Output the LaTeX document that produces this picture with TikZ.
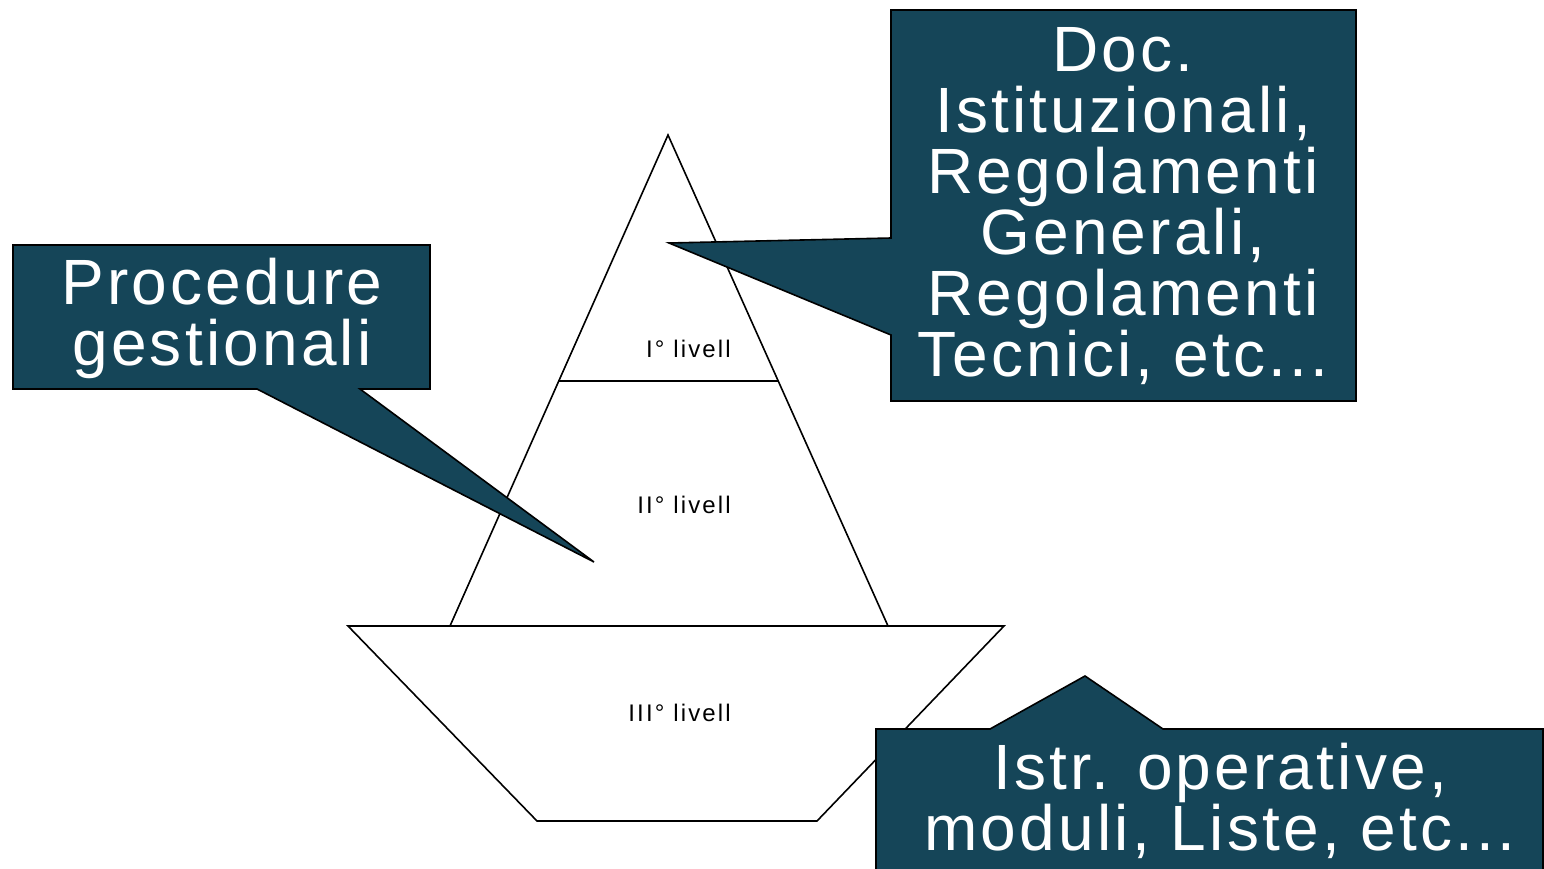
\documentclass[tikz,border=0pt]{standalone}
\usepackage{fontspec}
\setmainfont{Liberation Sans}
\newfontfamily\bigfont[LetterSpace=5]{Liberation Sans}
\newfontfamily\smallfont[LetterSpace=9]{Liberation Sans}
\usetikzlibrary{calc}
\definecolor{calloutfill}{RGB}{21,69,88}
\begin{document}
\begin{tikzpicture}[x=1pt,y=-1pt,
  outline/.style={draw=black,line width=1.6pt,line join=miter},
  callout/.style={outline,fill=calloutfill},
  calltext/.style={text=white,font=\bigfont\fontsize{64}{61}\selectfont,align=center,inner sep=0pt},
  levellabel/.style={font=\smallfont\fontsize{24}{28}\selectfont,inner sep=0pt,anchor=base east}]
\useasboundingbox (0,0) rectangle (1544,869);
% pyramid
\coordinate (apex) at (668,135);
\coordinate (bl) at (450,626);
\coordinate (br) at (888,626);
\coordinate (ml) at ($(apex)!0.501!(bl)$);
\coordinate (mr) at ($(apex)!0.501!(br)$);
\draw[outline,fill=white] (348,626) -- (1004,626) -- (817,821) -- (537,821) -- cycle;
\draw[outline] (apex) -- (bl) -- (br) -- cycle;
\draw[outline] (ml) -- (mr);
\node[levellabel] (l1) at (731,357) {I° livell};
\node[levellabel] (l2) at (731,513) {II° livell};
\node[levellabel] (l3) at (731,721) {III° livell};
% callouts
\coordinate (tipA) at (669,243);
\coordinate (tipB) at (594,562);
\coordinate (tipC) at (1085,676);
\draw[callout] (891,10) -- (1356,10) -- (1356,401) -- (891,401) -- (891,335) -- (tipA) -- (891,238) -- cycle;
\draw[callout] (13,245) -- (430,245) -- (430,389) -- (360,389) -- (tipB) -- (257,389) -- (13,389) -- cycle;
\draw[callout] (876,729) -- (990,729) -- (tipC) -- (1163,729) -- (1543,729) -- (1543,880) -- (876,880) -- cycle;
\node[calltext] (tA) at (1123,206) {Doc.\\Istituzionali,\\Regolamenti\\Generali,\\Regolamenti\\Tecnici, etc...};
\node[calltext] (tB) at (222,318) {Procedure\\gestionali};
\node[calltext] (tC) at (1220,801) {Istr. operative,\\moduli, Liste, etc...};
\end{tikzpicture}
\end{document}
